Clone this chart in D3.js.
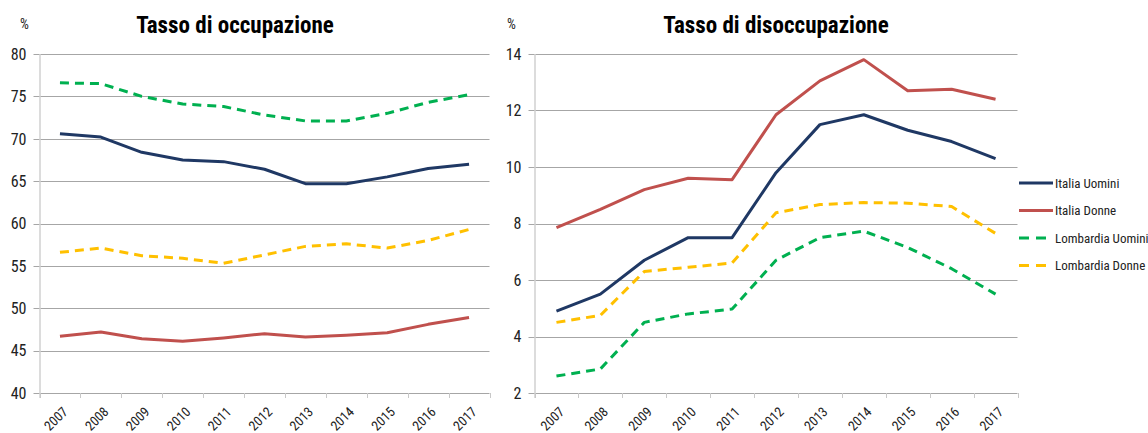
<!DOCTYPE html>
<html>
<head>
<meta charset="utf-8">
<script src="https://cdn.jsdelivr.net/npm/d3@7"></script>
<style>
  body { margin: 0; background: #fff; }
  svg text { font-family: "Liberation Sans Narrow", "Roboto Condensed", "Liberation Sans", sans-serif; fill: #222; }
</style>
</head>
<body>
<div id="chart"></div>
<script>
var years = ['2007', '2008', '2009', '2010', '2011', '2012', '2013', '2014', '2015', '2016', '2017'];
var series_names = ['Italia Uomini', 'Italia Donne', 'Lombardia Uomini', 'Lombardia Donne'];

// Tasso di occupazione
var occ_italia_uomini = [70.6, 70.2, 68.4, 67.5, 67.3, 66.4, 64.7, 64.7, 65.5, 66.5, 67.0];
var occ_italia_donne = [46.7, 47.2, 46.4, 46.1, 46.5, 47.0, 46.6, 46.8, 47.1, 48.1, 48.9];
var occ_lombardia_uomini = [76.6, 76.5, 75.0, 74.1, 73.8, 72.8, 72.1, 72.1, 73.0, 74.3, 75.2];
var occ_lombardia_donne = [56.6, 57.1, 56.2, 55.9, 55.3, 56.3, 57.3, 57.6, 57.1, 58.0, 59.3];

// Tasso di disoccupazione
var dis_italia_uomini = [4.9, 5.5, 6.7, 7.5, 7.5, 9.8, 11.5, 11.85, 11.3, 10.9, 10.3];
var dis_italia_donne = [7.85, 8.5, 9.2, 9.6, 9.55, 11.85, 13.05, 13.8, 12.7, 12.75, 12.4];
var dis_lombardia_uomini = [2.6, 2.85, 4.5, 4.8, 4.97, 6.7, 7.5, 7.73, 7.15, 6.4, 5.5];
var dis_lombardia_donne = [4.5, 4.75, 6.3, 6.45, 6.6, 8.38, 8.67, 8.74, 8.72, 8.6, 7.65];

var occ_ticks = [40, 45, 50, 55, 60, 65, 70, 75, 80];
var dis_ticks = [2, 4, 6, 8, 10, 12, 14];

var colors = ['#1f3864', '#c0504d', '#00b050', '#ffc000'];
var dashes = [null, null, '9,6', '9,6'];

var width = 1148, height = 433;

var svg = d3.select('#chart').append('svg')
    .attr('width', width)
    .attr('height', height)
    .style('display', 'block');

svg.append('rect').attr('width', width).attr('height', height).attr('fill', '#fff');

function draw_panel(opts) {
    var g = svg.append('g');
    var x = d3.scaleBand().domain(years).range([opts.left, opts.right]);
    var y = d3.scaleLinear().domain(opts.domain).range([opts.bottom, opts.top]);

    // grid lines with left tick
    g.selectAll('line.grid').data(opts.ticks).enter()
        .append('line')
        .attr('class', 'grid')
        .attr('x1', opts.left - 6)
        .attr('x2', opts.right)
        .attr('y1', function(d) { return Math.round(y(d)) + 0.5; })
        .attr('y2', function(d) { return Math.round(y(d)) + 0.5; })
        .attr('stroke', '#a6a6a6')
        .attr('stroke-width', 1);

    // vertical axis
    g.append('line')
        .attr('x1', opts.left + 0.5).attr('x2', opts.left + 0.5)
        .attr('y1', opts.top).attr('y2', opts.bottom + 5)
        .attr('stroke', '#d0d0d0').attr('stroke-width', 1.5);

    // x ticks at category boundaries
    var bounds = years.map(function(d) { return x(d); }).concat([opts.right]);
    g.selectAll('line.xtick').data(bounds).enter()
        .append('line')
        .attr('x1', function(d) { return Math.round(d) + 0.5; })
        .attr('x2', function(d) { return Math.round(d) + 0.5; })
        .attr('y1', Math.round(y(opts.domain[0])))
        .attr('y2', Math.round(y(opts.domain[0])) + 5)
        .attr('stroke', '#c8c8c8');

    g.selectAll('text.ylab').data(opts.ticks).enter()
        .append('text')
        .attr('x', opts.left - 13)
        .attr('y', function(d) { return y(d); })
        .attr('dy', '0.36em')
        .attr('text-anchor', 'end')
        .style('font-size', '16px')
        .text(function(d) { return d; });

    g.selectAll('text.xlab').data(years).enter()
        .append('text')
        .attr('transform', function(d) {
            return 'translate(' + (x(d) + x.bandwidth() / 2 + 2) + ',' + (opts.bottom + 13) + ') rotate(-45)';
        })
        .attr('text-anchor', 'end')
        .attr('dy', '0.7em')
        .style('font-size', '13.5px')
        .text(function(d) { return d; });

    var line = d3.line()
        .x(function(d, i) { return x(years[i]) + x.bandwidth() / 2; })
        .y(function(d) { return y(d); });

    opts.data.forEach(function(vals, i) {
        g.append('path')
            .datum(vals)
            .attr('d', line)
            .attr('fill', 'none')
            .attr('stroke', colors[i])
            .attr('stroke-width', 3)
            .attr('stroke-linejoin', 'round')
            .attr('stroke-dasharray', dashes[i]);
    });

    g.append('text')
        .attr('x', opts.title_x)
        .attr('y', 33)
        .attr('text-anchor', 'middle')
        .style('font-size', '23px')
        .style('font-weight', 700)
        .style('fill', '#000')
        .text(opts.title);

    g.append('text')
        .attr('x', opts.pct_x)
        .attr('y', 29)
        .style('font-size', '14px')
        .text('%');
}

draw_panel({
    left: 39.5, right: 489.5, top: 54, bottom: 393,
    domain: [40, 80], ticks: occ_ticks,
    data: [occ_italia_uomini, occ_italia_donne, occ_lombardia_uomini, occ_lombardia_donne],
    title: 'Tasso di occupazione', title_x: 235, pct_x: 20
});

draw_panel({
    left: 534.5, right: 1017.5, top: 54, bottom: 393,
    domain: [2, 14], ticks: dis_ticks,
    data: [dis_italia_uomini, dis_italia_donne, dis_lombardia_uomini, dis_lombardia_donne],
    title: 'Tasso di disoccupazione', title_x: 776, pct_x: 507
});

// legend
var legend = svg.append('g').attr('transform', 'translate(1019, 183)');
var rows = legend.selectAll('g').data(series_names).enter()
    .append('g')
    .attr('transform', function(d, i) { return 'translate(0,' + (i * 27.5) + ')'; });
rows.append('line')
    .attr('x1', 0).attr('x2', 34)
    .attr('stroke', function(d, i) { return colors[i]; })
    .attr('stroke-width', 3)
    .attr('stroke-dasharray', function(d, i) { return dashes[i] ? '10,7' : null; });
rows.append('text')
    .attr('x', 36)
    .attr('dy', '0.35em')
    .style('font-size', '13px')
    .text(function(d) { return d; });
</script>
</body>
</html>
